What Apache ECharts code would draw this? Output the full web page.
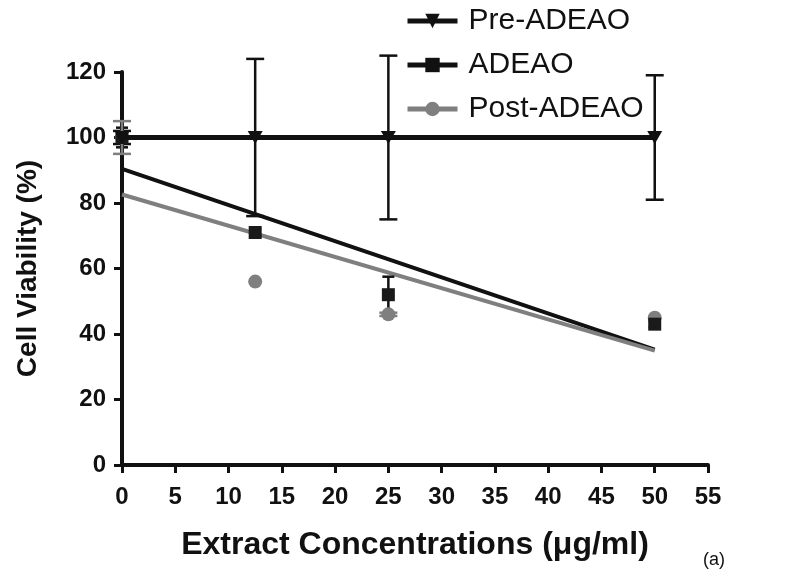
<!DOCTYPE html>
<html>
<head>
<meta charset="utf-8">
<script src="https://cdn.jsdelivr.net/npm/echarts@6/dist/echarts.min.js"></script>
<style>html,body{margin:0;padding:0;background:#fff;}#c{width:800px;height:580px;}</style>
</head>
<body>
<div id="c"></div>
<script>
// ---- data ----
const concentrations = [0, 12.5, 25, 50];
const preMean = [100, 100, 100, 100];
const preErr = [2, 24, 25, 19];
const adeaoMean = [100, 71, 52, 43];
const adeaoErr = [3, 1, 5.5, 1];
const postMean = [100, 56, 46, 45];
const postErr = [5, 0, 0.5, 0];
// regression line end points
const fitX = [0, 50];
const adeaoFit = [90.4, 35.2];
const postFit = [82.6, 34.9];
const xTicks = [0, 5, 10, 15, 20, 25, 30, 35, 40, 45, 50, 55];

const FONT = '"Liberation Sans", Arial, sans-serif';
const BLACK = '#111111';
const GRAY = '#7f7f7f';
const downTri = 'path://M0,0L10,0L5,10Z';

function pairs(xs, ys) { return xs.map((x, i) => [x, ys[i]]); }
function errData(xs, m, e) { return xs.map((x, i) => [x, m[i] - e[i], m[i] + e[i]]); }
function errRender(color, capHalf, lw) {
  return function (params, api) {
    const x = api.value(0), lo = api.value(1), hi = api.value(2);
    if (hi - lo <= 0) return { type: 'group', children: [] };
    const a = api.coord([x, lo]), b = api.coord([x, hi]);
    const st = { stroke: color, lineWidth: lw };
    return {
      type: 'group', children: [
        { type: 'line', shape: { x1: a[0], y1: a[1], x2: b[0], y2: b[1] }, style: st },
        { type: 'line', shape: { x1: a[0] - capHalf, y1: a[1], x2: a[0] + capHalf, y2: a[1] }, style: st },
        { type: 'line', shape: { x1: b[0] - capHalf, y1: b[1], x2: b[0] + capHalf, y2: b[1] }, style: st }
      ]
    };
  };
}

const chart = echarts.init(document.getElementById('c'), null, { renderer: 'canvas' });
chart.setOption({
  animation: false,
  backgroundColor: '#ffffff',
  grid: { left: 122, right: 92, top: 72, bottom: 115, containLabel: false },
  legend: {
    data: ['Pre-ADEAO', 'ADEAO', 'Post-ADEAO'],
    orient: 'vertical', left: 400, top: 1,
    itemWidth: 50, itemHeight: 18, itemGap: 14,
    lineStyle: { width: 5 },
    textStyle: { fontFamily: FONT, fontSize: 30, color: BLACK, lineHeight: 30, padding: [0, 0, 0, 6] }
  },
  xAxis: {
    type: 'value', min: 0, max: 55, interval: 5,
    name: 'Extract Concentrations (\u03bcg/ml)', nameLocation: 'middle', nameGap: 64,
    nameTextStyle: { fontFamily: FONT, fontSize: 32, fontWeight: 'bold', color: BLACK },
    axisLine: { lineStyle: { color: BLACK, width: 4 } },
    axisTick: { lineStyle: { color: BLACK, width: 3 }, length: 8 },
    axisLabel: { fontFamily: FONT, fontSize: 24, fontWeight: 'bold', color: BLACK, margin: 20,
      customValues: xTicks },
    splitLine: { show: false }
  },
  yAxis: {
    type: 'value', min: 0, max: 120, interval: 20,
    name: 'Cell Viability (%)', nameLocation: 'middle', nameGap: 80, nameRotate: 90,
    nameTextStyle: { fontFamily: FONT, fontSize: 28, fontWeight: 'bold', color: BLACK },
    axisLine: { show: true, lineStyle: { color: BLACK, width: 4 } },
    axisTick: { show: true, lineStyle: { color: BLACK, width: 3 }, length: 8 },
    axisLabel: { fontFamily: FONT, fontSize: 24, fontWeight: 'bold', color: BLACK, margin: 16 },
    splitLine: { show: false }
  },
  graphic: [{
    type: 'text', left: 703, top: 551,
    style: { text: '(a)', fontFamily: FONT, fontSize: 18, fill: BLACK }
  }],
  series: [
    {
      name: 'ADEAO', type: 'line', data: pairs(fitX, adeaoFit),
      symbol: 'rect', showSymbol: false, z: 2,
      itemStyle: { color: BLACK }, lineStyle: { color: BLACK, width: 4 }
    },
    {
      name: 'Post-ADEAO', type: 'line', data: pairs(fitX, postFit),
      symbol: 'circle', showSymbol: false, z: 2,
      itemStyle: { color: GRAY }, lineStyle: { color: GRAY, width: 4 }
    },
    {
      name: 'preErr', type: 'custom', z: 3, clip: false,
      renderItem: errRender(BLACK, 9, 2.5),
      encode: { x: 0, y: [1, 2] },
      data: errData(concentrations, preMean, preErr)
    },
    {
      name: 'adeaoErr', type: 'custom', z: 3, clip: false,
      renderItem: errRender(BLACK, 6, 2.5),
      encode: { x: 0, y: [1, 2] },
      data: errData(concentrations, adeaoMean, adeaoErr)
    },
    {
      name: 'postErr', type: 'custom', z: 3, clip: false,
      renderItem: errRender(GRAY, 9, 2.5),
      encode: { x: 0, y: [1, 2] },
      data: errData(concentrations, postMean, postErr)
    },
    {
      name: 'postPts', type: 'scatter', z: 4, data: pairs(concentrations, postMean),
      symbol: 'circle', symbolSize: 14, itemStyle: { color: GRAY, opacity: 1 }
    },
    {
      name: 'adeaoPts', type: 'scatter', z: 5, data: pairs(concentrations, adeaoMean),
      symbol: 'rect', symbolSize: 13, itemStyle: { color: '#1a1a1a', opacity: 1 }
    },
    {
      name: 'Pre-ADEAO', type: 'line', z: 6, data: pairs(concentrations, preMean),
      symbol: downTri, symbolSize: [15, 13], showSymbol: true,
      itemStyle: { color: BLACK }, lineStyle: { color: BLACK, width: 5 }
    }
  ]
});
</script>
</body>
</html>
